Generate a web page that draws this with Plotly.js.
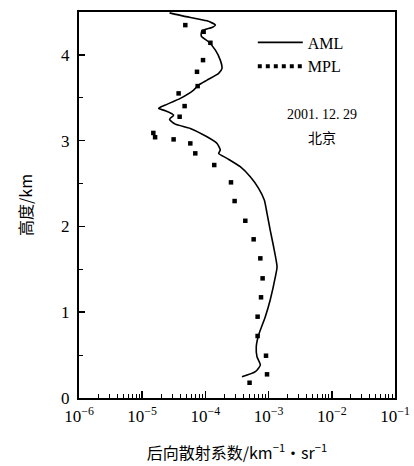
<!DOCTYPE html>
<html>
<head>
<meta charset="utf-8">
<script src="https://cdn.plot.ly/plotly-3.0.1.min.js"></script>
<style>html,body{margin:0;padding:0;background:#fff;}#chart{width:414px;height:466px;}</style>
</head>
<body>
<div id="chart"></div>
<script>
// AML (solid line) backscatter coefficient [km^-1 sr^-1] vs height [km]
const amlX = [2.71e-5, 4.52e-5, 1.06e-4, 1.44e-4, 1.27e-4, 8.83e-5, 8.61e-5, 1.12e-4, 1.44e-4, 1.72e-4,
  1.83e-4, 1.62e-4, 1.06e-4, 7.8e-5, 6.5e-5, 4.01e-5, 2.32e-5, 1.82e-5, 2.32e-5, 3.14e-5,
  2.71e-5, 3.34e-5, 5.77e-5, 1.06e-4, 1.53e-4, 1.72e-4, 1.62e-4, 2.2e-4, 3.56e-4, 5.13e-4,
  6.95e-4, 8.55e-4, 9.44e-4, 1.06e-3, 1.2e-3, 1.36e-3, 1.28e-3, 1.06e-3, 8.87e-4, 6.95e-4,
  6.38e-4, 6.55e-4, 7.4e-4, 6.17e-4, 3.79e-4];
const amlH = [4.49, 4.452, 4.397, 4.347, 4.32, 4.281, 4.219, 4.153, 4.056, 3.939,
  3.843, 3.784, 3.706, 3.648, 3.59, 3.493, 3.415, 3.376, 3.349, 3.298,
  3.248, 3.193, 3.143, 3.045, 2.968, 2.89, 2.852, 2.794, 2.696, 2.579,
  2.444, 2.308, 2.153, 1.958, 1.763, 1.53, 1.414, 1.142, 0.948, 0.734,
  0.598, 0.481, 0.385, 0.307, 0.248];
// MPL (dots)
const mplX = [4.81e-5, 9.38e-5, 1.2e-4, 9.17e-5, 7.36e-5, 7.54e-5, 3.77e-5, 4.69e-5, 3.91e-5, 1.5e-5,
  1.6e-5, 3.14e-5, 5.77e-5, 6.92e-5, 1.38e-4, 2.54e-4, 2.9e-4, 4.28e-4, 5.8e-4, 7.4e-4,
  8.04e-4, 7.59e-4, 6.7e-4, 6.7e-4, 9.1e-4, 9.44e-4, 5.0e-4];
const mplH = [4.347, 4.269, 4.141, 3.939, 3.803, 3.636, 3.551, 3.403, 3.279, 3.09,
  3.04, 3.015, 2.968, 2.852, 2.716, 2.514, 2.296, 2.066, 1.85, 1.628,
  1.395, 1.174, 0.948, 0.723, 0.493, 0.276, 0.178];
const xRangeLog = [-6, -1];
const decadeExps = [-6, -5, -4, -3, -2, -1];
const yTickVals = [0, 1, 2, 3, 4];

// decade labels as powers of ten
const xLabelAlias = {};
decadeExps.forEach(d => {
  const lab = '10<sup>−' + (-d) + '</sup>';
  xLabelAlias['1e−' + (-d)] = lab;
  xLabelAlias['1e-' + (-d)] = lab;
});

const serif = 'Liberation Serif, Times New Roman, serif';
const cjk = 'Noto Sans CJK SC, sans-serif';

const traces = [
  {x: amlX, y: amlH, mode: 'lines', name: 'AML', line: {color: '#000', width: 1.6, shape: 'spline', smoothing: 0.6}},
  {x: mplX, y: mplH, xaxis: 'x2', mode: 'markers', name: 'MPL', showlegend: false, marker: {symbol: 'square', size: 4.5, color: '#000'}},
  {x: [null], y: [null], mode: 'lines', name: 'MPL', line: {color: '#000', width: 4, dash: 'dot'}}
];

const layout = {
  width: 414, height: 466,
  margin: {l: 79, r: 19, t: 12, b: 68},
  paper_bgcolor: '#fff', plot_bgcolor: '#fff',
  font: {family: serif, size: 16, color: '#000'},
  showlegend: true,
  legend: {x: 0.55, y: 0.965, xanchor: 'left', yanchor: 'top', bgcolor: 'rgba(0,0,0,0)',
    font: {family: serif, size: 16, color: '#000'}, tracegroupgap: 0, itemwidth: 45},
  xaxis: {
    type: 'log', range: xRangeLog, tickmode: 'linear', tick0: 0, dtick: 1,
    tickformat: '.0e', labelalias: xLabelAlias,
    ticks: 'inside', ticklen: 7, tickwidth: 1.5, tickcolor: '#000',
    showline: true, linecolor: '#000', linewidth: 2, mirror: true,
    showgrid: false, zeroline: false,
    tickfont: {family: serif, size: 17}, ticklabelstandoff: 2,
    title: {text: '后向散射系数/km<sup>−1</sup>·sr<sup>−1</sup>', font: {family: cjk, size: 16}, standoff: 22}
  },
  xaxis2: {
    type: 'log', range: xRangeLog, overlaying: 'x', anchor: 'y', side: 'bottom',
    tickmode: 'linear', tick0: 0, dtick: 'D1', showticklabels: false,
    ticks: 'inside', ticklen: 4, tickwidth: 1, tickcolor: '#000',
    showline: false, showgrid: false, zeroline: false
  },
  yaxis: {
    range: [0, 4.5], tickmode: 'array', tickvals: yTickVals,
    ticks: 'inside', ticklen: 6, tickwidth: 1.5, tickcolor: '#000',
    showline: true, linecolor: '#000', linewidth: 2, mirror: true,
    showgrid: false, zeroline: false,
    tickfont: {family: serif, size: 17}, ticklabelstandoff: 4,
    minor: {ticks: 'inside', ticklen: 4, tickwidth: 1, tickcolor: '#000', dtick: 0.5, showgrid: false},
    title: {text: '高度/km', font: {family: cjk, size: 16}, standoff: 24}
  },
  annotations: [
    {xref: 'paper', yref: 'paper', x: 0.77, y: 0.734, xanchor: 'center', yanchor: 'middle',
      text: '2001. 12. 29', showarrow: false, font: {family: serif, size: 14, color: '#000'}},
    {xref: 'paper', yref: 'paper', x: 0.77, y: 0.676, xanchor: 'center', yanchor: 'middle',
      text: '北京', showarrow: false, font: {family: cjk, size: 14, color: '#000'}}
  ]
};

Plotly.newPlot('chart', traces, layout, {staticPlot: true, displayModeBar: false});
</script>
</body>
</html>
